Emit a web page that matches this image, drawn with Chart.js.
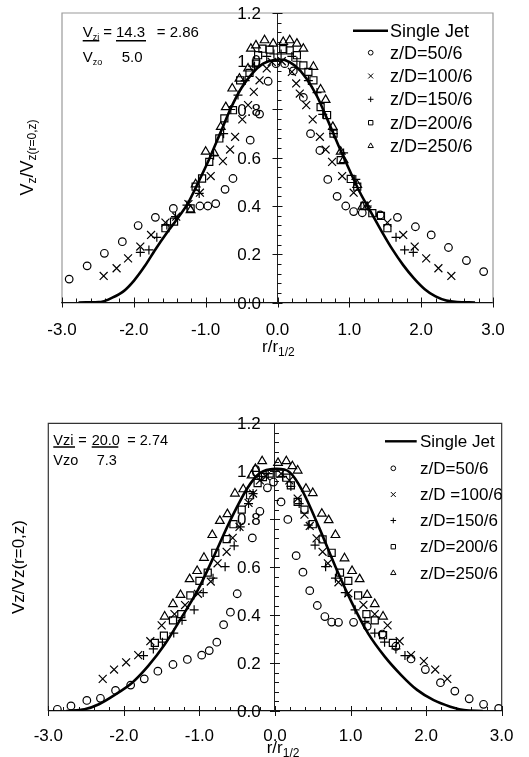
<!DOCTYPE html>
<html><head><meta charset="utf-8">
<script src="https://cdn.jsdelivr.net/npm/chart.js@4.4.1/dist/chart.umd.min.js"></script>
<style>
html,body{margin:0;padding:0;background:#fff;width:529px;height:757px;overflow:hidden}
canvas{position:absolute;left:0}
#c1{top:0}
#c2{top:370px}
</style></head><body>
<canvas id="c1" width="529" height="370"></canvas>
<canvas id="c2" width="529" height="387"></canvas>
<script>
// ---------- data ----------
const xTickLabels = ['-3.0','-2.0','-1.0','0.0','1.0','2.0','3.0'];
const yTickLabels = ['0.0','0.2','0.4','0.6','0.8','1.0','1.2'];
const namesTop = ['Single Jet','z/D=50/6','z/D=100/6','z/D=150/6','z/D=200/6','z/D=250/6'];
const namesBottom = ['Single Jet','z/D=50/6','z/D =100/6','z/D=150/6','z/D=200/6','z/D=250/6'];

// top chart
const topJet = [[-2.77,0],[-2.45,0.003],[-2.3,0.02],[-2.15,0.045],[-2.0,0.09],[-1.85,0.15],[-1.7,0.22],[-1.55,0.285],[-1.4,0.345],[-1.25,0.41],[-1.1,0.5],[-0.95,0.595],[-0.8,0.7],[-0.65,0.805],[-0.5,0.89],[-0.35,0.95],[-0.2,0.99],[-0.05,1.005],[0.1,1.005],[0.25,0.98],[0.4,0.93],[0.55,0.855],[0.7,0.755],[0.85,0.65],[1.0,0.55],[1.15,0.455],[1.3,0.375],[1.45,0.295],[1.6,0.22],[1.75,0.155],[1.9,0.1],[2.05,0.055],[2.2,0.025],[2.35,0.008],[2.5,0.002],[2.75,0]];
const top50 = [[-2.90,0.097],[-2.65,0.152],[-2.41,0.204],[-2.16,0.252],[-1.94,0.319],[-1.70,0.353],[-1.45,0.39],[-1.08,0.40],[-0.97,0.40],[-0.86,0.41],[-0.73,0.469],[-0.62,0.514],[-0.38,0.673],[-0.25,0.781],[-0.13,0.917],[-0.02,0.99],[0.10,0.99],[0.22,0.96],[0.36,0.85],[0.46,0.70],[0.59,0.63],[0.70,0.51],[0.83,0.44],[0.95,0.40],[1.06,0.377],[1.18,0.372],[1.43,0.363],[1.67,0.353],[1.92,0.314],[2.14,0.28],[2.38,0.228],[2.63,0.174],[2.87,0.128]];
const top100 = [[-2.42,0.11],[-2.24,0.142],[-2.08,0.183],[-1.91,0.232],[-1.76,0.28],[-1.56,0.331],[-1.41,0.356],[-1.24,0.408],[-1.08,0.455],[-0.93,0.524],[-0.76,0.586],[-0.66,0.634],[-0.59,0.687],[-0.49,0.759],[-0.41,0.818],[-0.33,0.873],[-0.25,0.921],[-0.15,0.97],[-0.08,0.997],[0.06,1.0],[0.20,0.956],[0.26,0.908],[0.31,0.866],[0.40,0.818],[0.49,0.759],[0.59,0.687],[0.67,0.634],[0.76,0.583],[0.90,0.524],[1.06,0.455],[1.25,0.408],[1.53,0.331],[1.75,0.28],[1.91,0.232],[2.07,0.183],[2.24,0.142],[2.42,0.11]];
const top150 = [[-1.91,0.208],[-1.79,0.218],[-1.68,0.27],[-1.54,0.321],[-1.42,0.356],[-1.26,0.404],[-1.09,0.452],[-0.89,0.61],[-0.75,0.70],[-0.65,0.80],[-0.55,0.86],[-0.45,0.92],[-0.32,0.98],[-0.15,1.02],[-0.05,1.03],[0.05,1.03],[0.2,1.02],[0.27,1.0],[0.43,0.92],[0.55,0.87],[0.63,0.78],[0.78,0.70],[0.92,0.62],[1.09,0.51],[1.25,0.40],[1.65,0.27],[1.77,0.218],[1.89,0.208]];
const top200 = [[-1.56,0.308],[-1.44,0.335],[-1.21,0.39],[-1.14,0.48],[-1.05,0.514],[-0.95,0.583],[-0.81,0.68],[-0.74,0.763],[-0.62,0.797],[-0.52,0.921],[-0.39,0.952],[-0.30,0.99],[-0.27,1.025],[-0.21,1.052],[-0.11,1.048],[0.08,1.05],[0.17,1.045],[0.27,1.025],[0.36,0.983],[0.43,0.956],[0.50,0.921],[0.60,0.81],[0.69,0.777],[0.78,0.70],[0.88,0.59],[1.02,0.512],[1.11,0.48],[1.21,0.40],[1.32,0.37],[1.44,0.359],[1.53,0.308]];
const top250 = [[-1.21,0.383],[-1.14,0.49],[-1.00,0.625],[-0.88,0.618],[-0.79,0.728],[-0.72,0.81],[-0.63,0.887],[-0.53,0.928],[-0.41,0.97],[-0.37,1.052],[-0.30,1.066],[-0.18,1.087],[-0.06,1.073],[0.08,1.08],[0.17,1.087],[0.27,1.073],[0.36,1.052],[0.50,0.977],[0.60,0.883],[0.67,0.84],[0.77,0.728],[0.88,0.625],[0.92,0.59],[1.11,0.487],[1.18,0.397]];

// bottom chart
const botJet = [[-2.76,0],[-2.52,0.007],[-2.33,0.028],[-2.11,0.069],[-1.89,0.118],[-1.68,0.187],[-1.46,0.277],[-1.24,0.388],[-1.02,0.505],[-0.81,0.644],[-0.59,0.796],[-0.37,0.927],[-0.20,0.992],[0,1.01],[0.19,0.997],[0.36,0.92],[0.58,0.768],[0.80,0.602],[1.02,0.45],[1.23,0.325],[1.45,0.228],[1.67,0.15],[1.88,0.088],[2.10,0.045],[2.32,0.018],[2.50,0.004],[2.75,0]];
const bot50 = [[-2.88,0.007],[-2.70,0.021],[-2.49,0.044],[-2.31,0.053],[-2.11,0.086],[-1.91,0.108],[-1.73,0.134],[-1.55,0.166],[-1.35,0.194],[-1.16,0.215],[-0.97,0.233],[-0.87,0.252],[-0.77,0.287],[-0.68,0.36],[-0.59,0.412],[-0.50,0.489],[-0.30,0.722],[-0.20,0.833],[-0.10,0.931],[-0.02,0.955],[0.08,0.872],[0.17,0.799],[0.28,0.648],[0.37,0.579],[0.46,0.502],[0.56,0.44],[0.66,0.394],[0.75,0.371],[0.84,0.37],[1.04,0.37],[1.22,0.353],[1.42,0.321],[1.60,0.27],[1.80,0.217],[1.99,0.173],[2.19,0.118],[2.38,0.083],[2.57,0.051],[2.76,0.028],[2.96,0.011]];
const bot100 = [[-2.28,0.134],[-2.13,0.173],[-1.97,0.203],[-1.81,0.233],[-1.65,0.291],[-1.50,0.357],[-1.33,0.404],[-1.19,0.442],[-1.02,0.489],[-0.85,0.54],[-0.76,0.616],[-0.64,0.664],[-0.56,0.722],[-0.47,0.768],[-0.35,0.868],[-0.29,0.907],[-0.20,0.962],[-0.12,0.979],[0.08,0.99],[0.19,0.962],[0.30,0.886],[0.39,0.819],[0.46,0.772],[0.55,0.72],[0.63,0.664],[0.70,0.616],[0.84,0.537],[0.97,0.491],[1.17,0.443],[1.32,0.404],[1.49,0.357],[1.65,0.291],[1.80,0.233],[1.97,0.208],[2.12,0.173],[2.28,0.134]];
const bot150 = [[-1.74,0.231],[-1.61,0.259],[-1.49,0.287],[-1.34,0.325],[-1.23,0.378],[-1.07,0.422],[-0.95,0.494],[-0.82,0.554],[-0.66,0.602],[-0.54,0.689],[-0.46,0.768],[-0.35,0.865],[-0.29,0.907],[-0.18,0.979],[-0.09,0.99],[0.10,0.979],[0.21,0.937],[0.32,0.865],[0.44,0.775],[0.53,0.692],[0.67,0.602],[0.80,0.554],[0.93,0.494],[1.06,0.422],[1.19,0.374],[1.32,0.325],[1.45,0.287],[1.60,0.259],[1.72,0.231]];
const bot200 = [[-1.59,0.284],[-1.47,0.314],[-1.35,0.378],[-1.24,0.404],[-1.12,0.482],[-1.00,0.543],[-0.89,0.577],[-0.79,0.66],[-0.64,0.717],[-0.55,0.779],[-0.44,0.84],[-0.33,0.9],[-0.23,0.951],[-0.16,0.976],[-0.07,0.99],[0.06,0.99],[0.15,0.973],[0.21,0.941],[0.30,0.872],[0.39,0.84],[0.50,0.779],[0.63,0.716],[0.75,0.66],[0.86,0.577],[0.97,0.543],[1.10,0.482],[1.21,0.404],[1.32,0.378],[1.43,0.316],[1.56,0.284]];
const bot250 = [[-1.46,0.394],[-1.35,0.446],[-1.25,0.484],[-1.13,0.55],[-1.03,0.584],[-0.94,0.639],[-0.83,0.734],[-0.73,0.793],[-0.63,0.821],[-0.53,0.907],[-0.42,0.925],[-0.31,0.983],[-0.26,1.01],[-0.17,1.042],[0.04,1.035],[0.15,1.042],[0.23,1.021],[0.30,1.003],[0.41,0.927],[0.50,0.909],[0.62,0.823],[0.71,0.796],[0.80,0.734],[0.92,0.637],[1.02,0.584],[1.12,0.55],[1.22,0.484],[1.32,0.446],[1.43,0.394]];

// ---------- drawing ----------
const FONT = "'Liberation Sans', Arial, Helvetica, sans-serif";
const markerStyles = ['circle','crossRot','cross','rect','triangle'];
const markerRadius = [3.8, 5.6, 4.5, 5, 5];

function richWidth(ctx, parts){let w=0;for(const p of parts){ctx.font=p[1]+'px '+FONT;w+=ctx.measureText(p[0]).width;}return w;}
function richDraw(ctx, parts, x, y){let cx=x;for(const p of parts){ctx.font=p[1]+'px '+FONT;ctx.fillText(p[0],cx,y+(p[2]||0));cx+=ctx.measureText(p[0]).width;}return cx;}

function deco(d){
  return {
    id:'deco',
    beforeDatasetsDraw(chart){
      const ctx=chart.ctx, a=chart.chartArea, xs=chart.scales.x, ys=chart.scales.y;
      ctx.save();
      // frame (left/top/right)
      ctx.strokeStyle=d.frame; ctx.lineWidth=1.2;
      ctx.beginPath();
      ctx.moveTo(a.left,a.bottom);ctx.lineTo(a.left,a.top);ctx.lineTo(a.right,a.top);ctx.lineTo(a.right,a.bottom);
      ctx.stroke();
      // ticks
      const y0=ys.getPixelForValue(0), x0=xs.getPixelForValue(0);
      ctx.strokeStyle='#111'; ctx.lineWidth=1;
      ctx.beginPath();
      for(let i=0;i<=30;i++){
        const v=-3+i*0.2, px=Math.round(xs.getPixelForValue(v))+0.5;
        if(i%5===0){ctx.moveTo(px,y0-5);ctx.lineTo(px,y0+5);} else {ctx.moveTo(px,y0-4);ctx.lineTo(px,y0);}
      }
      for(let i=0;i<=30;i++){
        const v=i*0.04, py=Math.round(ys.getPixelForValue(v))+0.5;
        if(i%5===0){ctx.moveTo(x0-5,py);ctx.lineTo(x0+5,py);} else {ctx.moveTo(x0,py);ctx.lineTo(x0+4,py);}
      }
      ctx.stroke();
      // y tick labels from the y scale's ticks
      ctx.fillStyle='#000'; ctx.font='17px '+FONT; ctx.textAlign='right'; ctx.textBaseline='middle';
      ys.ticks.forEach((t,i)=>{ ctx.fillText(yTickLabels[i], x0-d.yPad, ys.getPixelForValue(t.value)+1.5); });
      ctx.restore();
    },
    afterDraw(chart){
      const ctx=chart.ctx;
      ctx.save();
      ctx.fillStyle='#000';
      ctx.textBaseline='alphabetic'; ctx.textAlign='left';
      // x title
      richDraw(ctx,[['r/r',17,0],['1/2',12,4]],d.xTitle[0],d.xTitle[1]);
      // y title
      ctx.save();
      ctx.translate(d.yTitle[0],d.yTitle[1]);
      ctx.rotate(-Math.PI/2);
      const w=richWidth(ctx,d.yParts);
      richDraw(ctx,d.yParts,-w/2,0);
      ctx.restore();
      // annotation
      for(const t of d.ann){richDraw(ctx,t.parts,t.x,t.y);}
      ctx.strokeStyle='#000'; ctx.lineWidth=1.5;
      ctx.beginPath();
      for(const u of d.under){ctx.moveTo(u[0],u[2]);ctx.lineTo(u[1],u[2]);}
      ctx.stroke();
      // legend
      ctx.textBaseline='middle';
      ctx.font=d.legFont+'px '+FONT;
      d.names.forEach((n,i)=>{
        const y=d.legRows[i];
        if(i===0){
          ctx.strokeStyle='#000';ctx.lineWidth=2.4;ctx.beginPath();ctx.moveTo(d.legLine[0],y);ctx.lineTo(d.legLine[1],y);ctx.stroke();
        } else {
          ctx.strokeStyle='#000';ctx.fillStyle='rgba(0,0,0,0)';ctx.lineWidth=1;
          Chart.helpers.drawPoint(ctx,{pointStyle:markerStyles[i-1],radius:markerRadius[i-1]*0.62,borderWidth:1,rotation:0},d.legMarkX,y);
        }
        ctx.fillStyle='#000';
        ctx.fillText(n,d.legTextX,y+1);
      });
      ctx.restore();
    }
  };
}

function build(id, d){
  const series=[d.s50,d.s100,d.s150,d.s200,d.s250];
  const datasets=[{label:d.names[0],data:d.jet.map(p=>({x:p[0],y:p[1]})),showLine:true,borderColor:'#000',borderWidth:2.6,pointRadius:0,tension:0.3,fill:false}];
  series.forEach((s,i)=>datasets.push({label:d.names[i+1],data:s.map(p=>({x:p[0],y:p[1]})),pointStyle:markerStyles[i],pointRadius:markerRadius[i],pointHoverRadius:markerRadius[i],borderColor:'#000',backgroundColor:'rgba(0,0,0,0)',pointBorderWidth:1.2,borderWidth:1.2,showLine:false}));
  new Chart(document.getElementById(id),{
    type:'scatter',
    data:{datasets},
    options:{
      responsive:false,animation:false,devicePixelRatio:1,
      layout:{padding:d.pad},
      plugins:{legend:{display:false},tooltip:{enabled:false}},
      scales:{
        x:{type:'linear',position:'bottom',min:-3,max:3,
           border:{display:true,color:'#111',width:1.2},
           grid:{display:true,drawOnChartArea:false,drawTicks:false},
           ticks:{stepSize:1,autoSkip:false,maxRotation:0,padding:d.xPad,color:'#000',font:{family:FONT,size:17},callback:(v,i)=>xTickLabels[i]},
           afterFit:(s)=>{s.height=d.xH;}},
        y:{type:'linear',position:{x:0},min:0,max:1.2,
           border:{display:true,color:'#222',width:1},
           grid:{display:true,drawOnChartArea:false,drawTicks:false},
           ticks:{stepSize:0.2,display:false}}
      }
    },
    plugins:[deco(d)]
  });
}

build('c1',{
  names:namesTop, jet:topJet, s50:top50, s100:top100, s150:top150, s200:top200, s250:top250,
  pad:{left:62,right:36,top:13,bottom:0}, xH:67.5, xPad:17.5, yPad:16.5, frame:'#9a9a9a',
  xTitle:[262,352],
  yTitle:[33,157.5], yParts:[['V',18,0],['z',12,3],['/V',18,0],['z(r=0,z)',12,3]],
  ann:[
    {x:82.7,y:37,parts:[['V',15,0],['zi',9,3]]},{x:103.3,y:37,parts:[['=',15,0]]},{x:116,y:37,parts:[['14.3',15,0]]},{x:156.7,y:37,parts:[['= 2.86',15,0]]},
    {x:82.7,y:62,parts:[['V',15,0],['zo',9,3]]},{x:121.7,y:62,parts:[['5.0',15,0]]}
  ],
  under:[[82.7,99.3,40.7],[116,146,40.7]],
  legFont:18, legLine:[353,388], legMarkX:370.7, legTextX:390, legRows:[30.7,52.7,76,99.3,122.7,146]
});
build('c2',{
  names:namesBottom, jet:botJet, s50:bot50, s100:bot100, s150:bot150, s200:bot200, s250:bot250,
  pad:{left:48.3,right:14.7,top:53.3,bottom:0}, xH:46, xPad:15.5, yPad:14.4, frame:'#333',
  xTitle:[266.7,383],
  yTitle:[23.5,197], yParts:[['Vz/Vz(r=0,z)',17,0]],
  ann:[
    {x:53.3,y:75,parts:[['Vzi',14.5,0]]},{x:78.3,y:75,parts:[['=',14.5,0]]},{x:91.7,y:75,parts:[['20.0',14.5,0]]},{x:127.3,y:75,parts:[['= 2.74',14.5,0]]},
    {x:53.3,y:95,parts:[['Vzo',14.5,0]]},{x:96.7,y:95,parts:[['7.3',14.5,0]]}
  ],
  under:[[53.3,75,77],[91.7,118.3,77]],
  legFont:17, legLine:[385,416.7], legMarkX:393.3, legTextX:420, legRows:[71.3,98.3,124.5,150.5,176.7,203]
});
</script>
</body></html>
